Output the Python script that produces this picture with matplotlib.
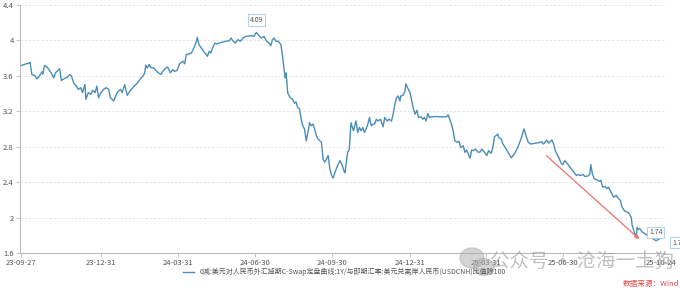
import matplotlib
matplotlib.use("Agg")
import matplotlib.pyplot as plt
import matplotlib.dates as mdates
from matplotlib.patches import Ellipse
import pandas as pd

plt.rcParams['font.family'] = ['Noto Sans CJK SC', 'DejaVu Sans']

# 数据：起始日期 + 天数偏移，数值为比值
start = "2023-09-27"
days = [0, 10, 11, 13, 17, 19, 22, 25, 26, 28, 31, 34, 37, 39, 41, 44, 46, 48, 51, 55,
        58, 60, 63, 66, 68, 71, 73, 76, 77, 80, 83, 85, 88, 90, 92, 95, 98, 101, 104, 106,
        110, 114, 118, 120, 123, 126, 130, 134, 138, 142, 146, 147, 148, 150, 152, 154, 157, 160, 163, 166,
        168, 172, 174, 177, 180, 182, 185, 188, 192, 194, 196, 200, 202, 205, 208, 209, 211, 215, 221, 223,
        225, 227, 230, 232, 235, 239, 243, 247, 249, 251, 254, 257, 260, 263, 267, 273, 276, 279, 283, 285,
        288, 291, 294, 296, 298, 300, 302, 305, 308, 310, 313, 314, 315, 316, 319, 322, 324, 326, 328, 330,
        332, 334, 336, 338, 340, 342, 344, 346, 348, 350, 352, 354, 356, 358, 360, 362, 364, 366, 368, 370,
        372, 376, 378, 380, 383, 384, 387, 389, 391, 394, 396, 397, 399, 401, 403, 405, 407, 409, 411, 413,
        415, 417, 419, 421, 423, 426, 429, 431, 434, 436, 439, 441, 443, 445, 447, 449, 450, 453, 455, 456,
        458, 461, 463, 465, 467, 469, 471, 474, 476, 478, 480, 482, 484, 486, 492, 498, 504, 506, 508, 510,
        512, 514, 517, 519, 521, 524, 526, 528, 530, 532, 534, 536, 538, 542, 544, 546, 549, 552, 554, 557,
        559, 561, 565, 566, 569, 571, 573, 577, 581, 585, 589, 593, 595, 596, 599, 601, 604, 608, 613, 617,
        619, 623, 625, 629, 631, 633, 637, 640, 642, 644, 646, 649, 652, 656, 658, 660, 663, 666, 668, 672,
        674, 675, 677, 679, 682, 685, 687, 689, 692, 694, 696, 698, 700, 702, 705, 707, 710, 712, 715, 718,
        720, 723, 724, 727, 729, 730, 731, 733, 736, 739, 742, 745, 749, 752, 755, 758]
values = [3.716, 3.745, 3.75, 3.615, 3.60, 3.566, 3.596, 3.645, 3.62, 3.716, 3.70, 3.66, 3.615, 3.577, 3.633, 3.66, 3.68, 3.548, 3.566, 3.585,
          3.615, 3.596, 3.51, 3.484, 3.447, 3.466, 3.41, 3.503, 3.335, 3.41, 3.39, 3.436, 3.41, 3.484, 3.353, 3.41, 3.447, 3.466, 3.447, 3.353,
          3.316, 3.41, 3.447, 3.41, 3.50, 3.38, 3.44, 3.48, 3.52, 3.57, 3.615, 3.65, 3.72, 3.69, 3.727, 3.69, 3.69, 3.66, 3.633, 3.615,
          3.65, 3.69, 3.697, 3.633, 3.671, 3.65, 3.66, 3.735, 3.765, 3.735, 3.84, 3.85, 3.858, 3.914, 3.99, 4.034, 3.952, 3.896, 3.82, 3.877,
          3.858, 3.914, 3.97, 3.959, 3.97, 3.981, 3.99, 3.996, 4.026, 3.996, 3.97, 4.008, 3.99, 4.026, 4.045, 4.053, 4.045, 4.09, 4.045, 4.026,
          4.045, 3.99, 3.97, 3.94, 4.008, 4.026, 3.99, 3.99, 3.952, 3.82, 3.577, 3.633, 3.54, 3.41, 3.353, 3.335, 3.29, 3.305, 3.24, 3.23,
          3.11, 3.035, 3.0, 2.867, 2.96, 3.07, 3.035, 3.055, 3.0, 2.925, 2.886, 2.867, 2.85, 2.66, 2.625, 2.66, 2.70, 2.55, 2.475, 2.445,
          2.51, 2.606, 2.643, 2.606, 2.52, 2.505, 2.736, 2.77, 3.07, 2.98, 3.055, 3.09, 2.96, 3.017, 2.98, 3.017, 2.96, 3.0, 3.055, 3.13,
          3.035, 3.055, 3.055, 3.11, 3.09, 3.11, 3.024, 3.13, 3.09, 3.11, 3.09, 3.167, 3.28, 3.353, 3.372, 3.316, 3.372, 3.383, 3.428, 3.51,
          3.466, 3.41, 3.316, 3.223, 3.167, 3.212, 3.13, 3.137, 3.11, 3.13, 3.09, 3.174, 3.13, 3.137, 3.14, 3.137, 3.137, 3.16, 3.11, 3.055,
          2.98, 2.867, 2.85, 2.86, 2.79, 2.81, 2.736, 2.763, 2.718, 2.67, 2.763, 2.755, 2.774, 2.736, 2.74, 2.774, 2.736, 2.70, 2.755, 2.725,
          2.79, 2.912, 2.942, 2.904, 2.886, 2.83, 2.80, 2.736, 2.673, 2.725, 2.80, 2.904, 2.972, 3.0, 2.904, 2.848, 2.83, 2.837, 2.845, 2.856,
          2.83, 2.875, 2.84, 2.875, 2.83, 2.755, 2.68, 2.613, 2.598, 2.643, 2.625, 2.587, 2.55, 2.50, 2.475, 2.483, 2.475, 2.486, 2.464, 2.47,
          2.494, 2.598, 2.494, 2.438, 2.427, 2.41, 2.42, 2.344, 2.352, 2.326, 2.344, 2.306, 2.27, 2.23, 2.25, 2.225, 2.195, 2.12, 2.075, 2.064,
          2.053, 2.0, 1.914, 1.82, 1.80, 1.887, 1.865, 1.876, 1.837, 1.82, 1.80, 1.78, 1.76, 1.74, 1.75, 1.78]

tick_dates = ["2023-09-27", "2023-12-31", "2024-03-31", "2024-06-30", "2024-09-30",
              "2024-12-31", "2025-03-31", "2025-06-30", "2025-10-24"]
y_ticks = [1.6, 2, 2.4, 2.8, 3.2, 3.6, 4, 4.4]
series_name = "0减:美元对人民币外汇掉期C-Swap定盘曲线:1Y/与即期汇率:美元兑离岸人民币(USDCNH)比值除100"

# 红色趋势箭头 (起点, 终点)
arrow_start = ("2025-06-08", 2.72)
arrow_end = ("2025-10-01", 1.735)

dates = pd.Timestamp(start) + pd.to_timedelta(days, unit="D")
s = pd.Series(values, index=dates)

fig = plt.figure(figsize=(6.8, 2.9), dpi=100)
ax = fig.add_axes([0.0294, 0.1276, 0.9486, 0.8554])

line_color = "#4a8db8"
ax.plot(s.index, s.values, color=line_color, lw=1.0, label=series_name)

ax.set_ylim(1.6, 4.4)
ax.set_xlim(pd.Timestamp("2023-09-26"), pd.Timestamp("2025-10-29"))
ax.set_yticks(y_ticks)
ax.set_yticklabels([f"{v:g}" for v in y_ticks])
ax.set_xticks(pd.to_datetime(tick_dates))
ax.xaxis.set_major_formatter(mdates.DateFormatter("%y-%m-%d"))

ax.grid(axis="y", color="#e3e3e3", lw=0.6, ls=(0, (3, 2)))
ax.set_axisbelow(True)
for side in ["top", "right"]:
    ax.spines[side].set_visible(False)
for side in ["left", "bottom"]:
    ax.spines[side].set_color("#bbbbbb")
    ax.spines[side].set_linewidth(0.8)
ax.tick_params(axis="both", labelsize=5.5, colors="#bbbbbb", labelcolor="#555555",
               length=3, width=0.6, pad=1.5)

# 最大、最小、最新值标签
box = dict(boxstyle="square,pad=0.25", fc="white", ec="#9fcbe0", lw=0.6)
imax = s.idxmax()
ax.annotate(f"{s.max():.2f}", (imax, s.max()), xytext=(0, 6), textcoords="offset points",
            ha="center", va="bottom", fontsize=5, color="#555555", bbox=box)
imin = s.idxmin()
ax.annotate(f"{s.min():.2f}", (imin, s.min()), xytext=(0, 3), textcoords="offset points",
            ha="center", va="bottom", fontsize=5, color="#555555", bbox=box)
ax.annotate(f"{s.iloc[-1]:.2f}", (s.index[-1], s.iloc[-1]), xytext=(8, -4), textcoords="offset points",
            ha="left", va="center", fontsize=5, color="#555555", bbox=box, annotation_clip=False)

ax.annotate("", xy=(pd.Timestamp(arrow_end[0]), arrow_end[1]),
            xytext=(pd.Timestamp(arrow_start[0]), arrow_start[1]),
            arrowprops=dict(arrowstyle="-|>", color="#f07070", lw=0.9, mutation_scale=6))

fig.legend(loc="center", bbox_to_anchor=(0.507, 0.062), frameon=False, fontsize=5,
           handlelength=1.6, labelcolor="#555555")

# 水印
fig.patches.append(Ellipse((472 / 680, 1 - 258 / 290), 24 / 680, 20 / 290, transform=fig.transFigure,
                           color="#aaaaaa", alpha=0.5, zorder=5))
fig.patches.append(Ellipse((484 / 680, 1 - 267 / 290), 20 / 680, 17 / 290, transform=fig.transFigure,
                           color="#aaaaaa", alpha=0.5, zorder=5))
fig.text(0.72, 0.097, "公众号 · 沧海一土狗", fontsize=14, color="#999999", alpha=0.6, va="center")
fig.text(0.999, 0.02, "数据来源：Wind", fontsize=5.5, color="#e04848", ha="right", va="center")

fig.savefig("out.png", dpi=100)
